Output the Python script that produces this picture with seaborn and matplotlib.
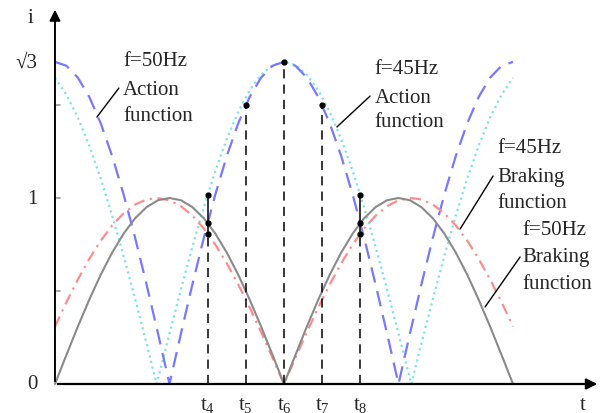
import matplotlib
matplotlib.use("Agg")
import matplotlib.pyplot as plt
import seaborn as sns
import pandas as pd

# ----- Data (time in ms, current in p.u.) ------------------------------------
t_50 = [0, 0.5, 1, 1.5, 2, 2.5, 3, 3.5, 4, 4.5, 5, 5.5, 6, 6.5, 7, 7.5, 8, 8.5, 9, 9.5, 10,
        10.5, 11, 11.5, 12, 12.5, 13, 13.5, 14, 14.5, 15, 15.5, 16, 16.5, 17, 17.5, 18, 18.5, 19, 19.5, 20]
action_50 = [1.732, 1.711, 1.647, 1.543, 1.401, 1.225, 1.018, 0.786, 0.535, 0.271, 0.0,
             0.271, 0.535, 0.786, 1.018, 1.225, 1.401, 1.543, 1.647, 1.711, 1.732,
             1.711, 1.647, 1.543, 1.401, 1.225, 1.018, 0.786, 0.535, 0.271, 0.0,
             0.271, 0.535, 0.786, 1.018, 1.225, 1.401, 1.543, 1.647, 1.711, 1.732]
braking_50 = [0.0, 0.156, 0.309, 0.454, 0.588, 0.707, 0.809, 0.891, 0.951, 0.988, 1.0,
              0.988, 0.951, 0.891, 0.809, 0.707, 0.588, 0.454, 0.309, 0.156, 0.0,
              0.156, 0.309, 0.454, 0.588, 0.707, 0.809, 0.891, 0.951, 0.988, 1.0,
              0.988, 0.951, 0.891, 0.809, 0.707, 0.588, 0.454, 0.309, 0.156, 0.0]

t_45 = [0, 0.5, 1, 1.5, 2, 2.5, 3, 3.5, 4, 4.44, 5, 5.5, 6, 6.5, 7, 7.5, 8, 8.5, 9, 9.5, 10,
        10.5, 11, 11.5, 12, 12.5, 13, 13.5, 14, 14.5, 15, 15.56, 16, 16.5, 17, 17.5, 18, 18.5, 19, 19.5, 20]
action_45 = [1.647, 1.555, 1.433, 1.281, 1.104, 0.905, 0.688, 0.457, 0.217, 0.0, 0.271,
             0.509, 0.737, 0.951, 1.145, 1.317, 1.462, 1.579, 1.663, 1.715, 1.732,
             1.715, 1.663, 1.579, 1.462, 1.317, 1.145, 0.951, 0.737, 0.509, 0.271,
             0.0, 0.217, 0.457, 0.688, 0.905, 1.104, 1.281, 1.433, 1.555, 1.647]
braking_45 = [0.309, 0.440, 0.562, 0.673, 0.771, 0.853, 0.918, 0.965, 0.992, 1.0, 0.988,
              0.956, 0.905, 0.836, 0.750, 0.649, 0.536, 0.412, 0.279, 0.141, 0.0,
              0.141, 0.279, 0.412, 0.536, 0.649, 0.750, 0.836, 0.905, 0.956, 0.988,
              1.0, 0.992, 0.965, 0.918, 0.853, 0.771, 0.673, 0.562, 0.440, 0.309]

# marked instants and the dots on each
mark_times  = [6.667, 8.333, 10.0, 11.667, 13.333]
mark_labels = ["4", "5", "6", "7", "8"]
mark_dots   = [[1.018, 0.866, 0.809], [1.5], [1.732], [1.5], [1.018, 0.866, 0.809]]

ytick_vals   = [0.5, 1.0, 1.5]
ylabel_vals  = [0.0, 1.0, 1.732]
ylabel_texts = ["0", "1", "\u221a3"]

# ----- Style ----------------------------------------------------------------
sns.set_style("white")
plt.rcParams["font.family"] = ["Liberation Serif", "DejaVu Serif"]
plt.rcParams["mathtext.fontset"] = "custom"
plt.rcParams["mathtext.rm"] = "Liberation Serif"

FS = 15

fig = plt.figure(figsize=(6.14, 4.14), dpi=100)
ax = fig.add_axes([0, 0, 1, 1])
ax.set_xlim(-2.40, 24.41)
ax.set_ylim(-0.156, 2.070)
ax.axis("off")

df50 = pd.DataFrame({"t": t_50, "action": action_50, "braking": braking_50})
df45 = pd.DataFrame({"t": t_45, "action": action_45, "braking": braking_45})

sns.lineplot(data=df45, x="t", y="action", ax=ax, color="#7fe3e3", lw=1.6,
             linestyle=(0, (1, 1.6)), sort=False)
sns.lineplot(data=df50, x="t", y="action", ax=ax, color="#7878ff", lw=1.6,
             linestyle=(0, (7, 4)), sort=False)
sns.lineplot(data=df45, x="t", y="braking", ax=ax, color="#ff8c8c", lw=1.6,
             linestyle=(0, (5, 2.5, 1, 2.5)), sort=False)
sns.lineplot(data=df50, x="t", y="braking", ax=ax, color="#8a8a8a", lw=1.5, sort=False)

# ----- Axes with arrows -------------------------------------------------------
ax.annotate("", xy=(23.8, 0), xytext=(0, 0),
            arrowprops=dict(arrowstyle="-|>", color="black", lw=1.6, mutation_scale=16))
ax.annotate("", xy=(0, 2.027), xytext=(0, 0),
            arrowprops=dict(arrowstyle="-|>", color="black", lw=1.4, mutation_scale=16))

for v in ytick_vals:
    ax.plot([0, 0.22], [v, v], color="#999999", lw=1.2)
for v, s in zip(ylabel_vals, ylabel_texts):
    ax.text(-0.75, v, s, fontsize=FS, ha="right", va="center")
ax.text(-1.09, 1.973, "i", fontsize=FS, ha="center", va="center")
ax.text(23.06, -0.108, "t", fontsize=FS, ha="center", va="center")

# ----- Marked instants ----------------------------------------------------------
for tm, lab, dots in zip(mark_times, mark_labels, mark_dots):
    ax.plot([tm, tm], [0, min(dots)], color="black", lw=1.1, linestyle=(0, (6, 4)))
    if len(dots) > 1:
        ax.plot([tm, tm], [min(dots), max(dots)], color="black", lw=1.1)
    ax.scatter([tm] * len(dots), dots, s=12, color="black", zorder=5)
    ax.text(tm, -0.108, r"$\mathregular{t_{%s}}$" % lab, fontsize=FS, ha="center", va="center")

# ----- Curve labels with leader lines -------------------------------------------
notes = [
    (["f=50Hz", "Action", "function"], 2.97, [1.737, 1.586, 1.446], (1.83, 1.435), (2.79, 1.591)),
    (["f=45Hz", "Action", "function"], 13.97, [1.694, 1.543, 1.409], (12.31, 1.382), (13.76, 1.548)),
    (["f=45Hz", "Braking", "function"], 19.30, [1.274, 1.118, 0.978], (17.69, 0.833), (19.13, 1.118)),
    (["f=50Hz", "Braking", "function"], 20.39, [0.833, 0.683, 0.538], (18.78, 0.414), (20.31, 0.683)),
]
for lines, x0, ys, p0, p1 in notes:
    for s, y in zip(lines, ys):
        ax.text(x0, y, s, fontsize=FS, ha="left", va="center")
    ax.plot([p0[0], p1[0]], [p0[1], p1[1]], color="black", lw=1.0)

fig.savefig("out.png", dpi=100)
